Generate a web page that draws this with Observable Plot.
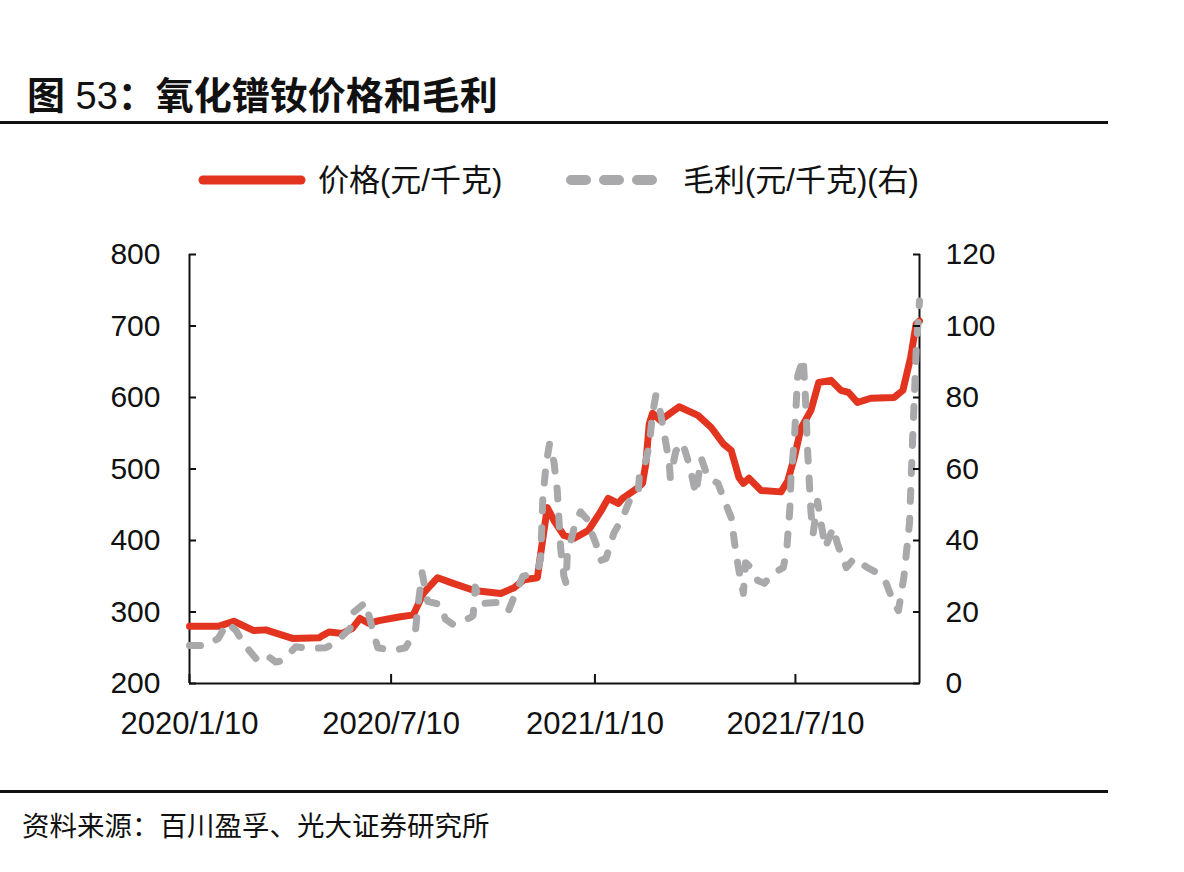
<!DOCTYPE html>
<html>
<head>
<meta charset="utf-8">
<script src="https://cdn.jsdelivr.net/npm/d3@7"></script>
<script src="https://cdn.jsdelivr.net/npm/@observablehq/plot@0.6"></script>
<style>
html,body{margin:0;padding:0;background:#fff;}
#wrap{position:relative;width:1184px;height:872px;overflow:hidden;font-family:"Liberation Sans",Arial,"Noto Sans CJK SC",sans-serif;color:#111;}
#title{position:absolute;left:27px;top:72px;font-family:"Liberation Sans","Noto Sans CJK SC",sans-serif;font-weight:700;font-size:38px;line-height:48px;white-space:nowrap;}
#title .num{font-weight:400;}
.hr{position:absolute;left:0;width:1108px;height:3px;background:#111;}
#legend{position:absolute;left:0;top:155px;}
#chart{position:absolute;left:0;top:230px;}
#source{position:absolute;left:22px;top:805px;font-family:"Noto Sans CJK SC",sans-serif;font-size:27.5px;line-height:38px;white-space:nowrap;}
</style>
</head>
<body>
<div id="wrap">
  <div id="title">图 <span class="num">53</span>：氧化镨钕价格和毛利</div>
  <div class="hr" style="top:121px"></div>
  <svg id="legend" width="1184" height="50"></svg>
  <div id="chart"></div>
  <div class="hr" style="top:790px"></div>
  <div id="source">资料来源：百川盈孚、光大证券研究所</div>
</div>
<script>
// ---- data ----
const seriesNames = ["价格(元/千克)", "毛利(元/千克)(右)"];

const priceDates = ["2020-01-10","2020-02-05","2020-02-19","2020-03-08","2020-03-19","2020-03-23","2020-04-12","2020-05-06","2020-05-09","2020-05-15","2020-05-27","2020-06-05","2020-06-12","2020-06-20","2020-06-29","2020-07-17","2020-07-30","2020-08-08","2020-08-21","2020-09-04","2020-09-23","2020-10-17","2020-10-29","2020-11-07","2020-11-19","2020-11-22","2020-11-28","2020-12-04","2020-12-13","2020-12-22","2021-01-04","2021-01-15","2021-01-22","2021-01-31","2021-02-04","2021-02-18","2021-02-22","2021-02-25","2021-02-28","2021-03-03","2021-03-10","2021-03-27","2021-04-13","2021-04-25","2021-05-06","2021-05-13","2021-05-20","2021-05-24","2021-05-29","2021-06-09","2021-06-27","2021-07-03","2021-07-09","2021-07-15","2021-07-24","2021-07-31","2021-08-11","2021-08-20","2021-08-27","2021-09-04","2021-09-16","2021-10-07","2021-10-15","2021-10-22","2021-10-27","2021-10-30"];
const priceValues = [280,280,287,274,275,273,263,264,267,272,270,277,291,284,288,293,296,326,348,340,330,326,334,345,348,381,446,428,407,403,414,440,459,452,459,474,480,508,563,578,568,587,575,558,535,526,488,480,487,470,468,483,516,557,582,621,624,610,607,593,599,600,610,656,703,707];

const profitDates = ["2020-01-10","2020-01-25","2020-02-05","2020-02-13","2020-02-21","2020-02-28","2020-03-10","2020-03-16","2020-03-20","2020-03-28","2020-04-03","2020-04-15","2020-04-26","2020-05-12","2020-05-21","2020-06-03","2020-06-06","2020-06-17","2020-06-20","2020-06-24","2020-06-28","2020-07-12","2020-07-23","2020-08-01","2020-08-03","2020-08-07","2020-08-10","2020-08-12","2020-08-24","2020-08-28","2020-09-04","2020-09-08","2020-09-13","2020-09-20","2020-09-22","2020-09-24","2020-09-29","2020-10-17","2020-10-24","2020-10-30","2020-11-06","2020-11-16","2020-11-20","2020-11-22","2020-11-24","2020-11-27","2020-11-30","2020-12-04","2020-12-07","2020-12-10","2020-12-13","2020-12-15","2020-12-16","2020-12-24","2020-12-28","2021-01-04","2021-01-06","2021-01-11","2021-01-15","2021-01-20","2021-01-27","2021-02-04","2021-02-10","2021-02-18","2021-02-19","2021-02-25","2021-02-28","2021-03-03","2021-03-06","2021-03-10","2021-03-13","2021-03-18","2021-03-19","2021-03-24","2021-03-30","2021-04-04","2021-04-07","2021-04-11","2021-04-16","2021-04-22","2021-05-01","2021-05-08","2021-05-13","2021-05-17","2021-05-20","2021-05-24","2021-05-26","2021-05-31","2021-06-06","2021-06-12","2021-06-18","2021-06-29","2021-07-02","2021-07-05","2021-07-06","2021-07-09","2021-07-12","2021-07-17","2021-07-19","2021-07-21","2021-07-24","2021-07-26","2021-07-30","2021-08-02","2021-08-06","2021-08-13","2021-08-17","2021-08-25","2021-09-01","2021-09-13","2021-09-23","2021-09-30","2021-10-07","2021-10-11","2021-10-16","2021-10-21","2021-10-24","2021-10-27","2021-10-30"];
const profitValues = [10.6,10.6,12.6,17,14.8,11,7,6.5,7.8,6,6.4,10.3,9.8,10,11.5,15.4,19.9,22.7,19,14.3,10,9.2,10,14.8,21,31,26,23,22,18,16.5,17,17.6,18.5,19,27,22.4,22.7,20.4,25,30,30.8,32.5,35,52,61.5,67,62,54,38,30,28,36,45.6,48,45.6,43,39,34.4,35,42,46.4,51,53,57.6,62.4,66.6,75.5,80.6,76,70.8,62,57.6,65,67.4,62.4,58.7,53,63,57.6,56,50.3,46.4,37.2,31.6,25.2,33.8,32.4,28.8,28,30.5,32.4,37,49,57.6,68,86,91,80,65,48,42,51,45,38,43.6,39,32.4,35,32.4,30.8,28,22.4,20.4,30,45,70,93,107];

const xDomainDates = ["2020-01-10", "2021-10-30"];
const xTickDates = ["2020-01-10", "2020-07-10", "2021-01-10", "2021-07-10"];
const leftTicks = [200, 300, 400, 500, 600, 700, 800];
const rightTicks = [0, 20, 40, 60, 80, 100, 120];

const colors = ["#e2341f", "#a9a9ab"];

// ---- build ----
const parse = d3.utcParse("%Y-%m-%d");
const price = priceDates.map((d, i) => ({date: parse(d), value: priceValues[i]}));
const profit = profitDates.map((d, i) => ({date: parse(d), value: profitValues[i]}));
const xDomain = xDomainDates.map(parse);
// right axis (0–120) mapped onto left axis range (200–800)
const r0 = rightTicks[0], r1 = rightTicks[rightTicks.length - 1];
const l0 = leftTicks[0], l1 = leftTicks[leftTicks.length - 1];
const toLeft = p => l0 + (p - r0) * (l1 - l0) / (r1 - r0);
const toRight = v => r0 + (v - l0) * (r1 - r0) / (l1 - l0);

const chart = Plot.plot({
  width: 1184,
  height: 500,
  marginTop: 24,
  marginBottom: 47,
  marginLeft: 189,
  marginRight: 265,
  style: {fontFamily: "'Liberation Sans', Arial, sans-serif", fontSize: "29px", color: "#111", background: "transparent", overflow: "visible"},
  x: {type: "utc", domain: xDomain},
  y: {domain: [l0, l1]},
  marks: [
    Plot.ruleX(xDomain, {stroke: "#111", strokeWidth: 2}),
    Plot.ruleY([l0], {stroke: "#111", strokeWidth: 2}),
    Plot.lineY(price, {x: "date", y: "value", stroke: colors[0], strokeWidth: 7, strokeLinejoin: "round", strokeLinecap: "round"}),
    Plot.lineY(profit, {x: "date", y: d => toLeft(d.value), stroke: colors[1], strokeWidth: 7, strokeDasharray: "11,17", strokeLinecap: "round", strokeLinejoin: "round"}),
    Plot.axisY(leftTicks, {anchor: "left", tickSize: -7, tickPadding: 36, strokeWidth: 2, label: null, fontSize: 30}),
    Plot.axisY(rightTicks.map(toLeft), {anchor: "right", tickSize: -7, tickPadding: 33, strokeWidth: 2, label: null, fontSize: 30, tickFormat: d => String(Math.round(toRight(d)))}),
    Plot.axisX(xTickDates.map(parse), {anchor: "bottom", tickSize: -9, tickPadding: 37, strokeWidth: 2, label: null, fontSize: 31, tickFormat: d3.utcFormat("%Y/%-m/%-d")})
  ]
});
document.getElementById("chart").appendChild(chart);

// ---- legend ----
const lg = d3.select("#legend");
const cy = 25;
lg.append("line").attr("x1", 203).attr("x2", 301).attr("y1", cy).attr("y2", cy)
  .attr("stroke", colors[0]).attr("stroke-width", 9).attr("stroke-linecap", "round");
lg.append("text").attr("x", 318).attr("y", cy).attr("dominant-baseline", "central")
  .attr("font-family", "'Liberation Sans','Noto Sans CJK SC',sans-serif").attr("font-size", 31).attr("fill", "#111")
  .text(seriesNames[0]);
lg.append("line").attr("x1", 571).attr("x2", 668).attr("y1", cy).attr("y2", cy)
  .attr("stroke", colors[1]).attr("stroke-width", 10).attr("stroke-linecap", "round").attr("stroke-dasharray", "15,18");
lg.append("text").attr("x", 683).attr("y", cy).attr("dominant-baseline", "central")
  .attr("font-family", "'Liberation Sans','Noto Sans CJK SC',sans-serif").attr("font-size", 31).attr("fill", "#111")
  .text(seriesNames[1]);
</script>
</body>
</html>
